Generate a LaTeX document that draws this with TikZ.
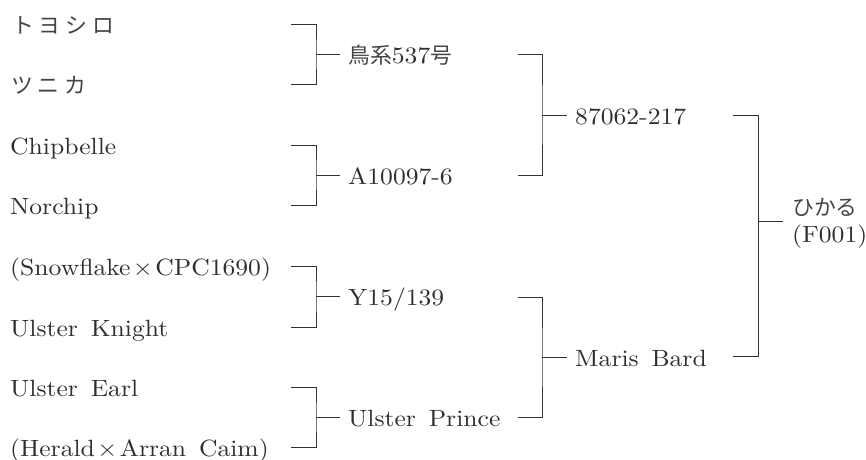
\documentclass[tikz,border=0pt]{standalone}
\usepackage{fontspec}
\setmainfont{lmroman10-regular.otf}[FakeStretch=1.09,WordSpace=1.5]
\newfontfamily\jpf{Noto Sans CJK JP}[Scale=0.93]
\newcommand\jp{\jpf\color{jtx}}
\definecolor{txt}{HTML}{2E2E2E}
\definecolor{jtx}{HTML}{444444}
\definecolor{lnc}{HTML}{333333}
\begin{document}
\begin{tikzpicture}[x=1pt,y=-1pt,
  every node/.style={inner xsep=8pt,inner ysep=0pt,text=txt,font=\fontsize{23.5}{27}\selectfont},
  lbl/.style={anchor=base west},
  brk/.style={draw=lnc,line width=0.9pt}]
\useasboundingbox (0,0) rectangle (866,459);
% generation 1 (left column)
\node[lbl] (g1) at (4,33) {\jp ト\hspace{0.22em}ヨ\hspace{0.22em}シ\hspace{0.22em}ロ};
\node[lbl] (g2) at (3,93) {\jp ツ\hspace{0.22em}ニ\hspace{0.22em}カ};
\node[lbl] (g3) at (2,154) {Chipbelle};
\node[lbl] (g4) at (2,214) {Norchip};
\node[lbl] (g5) at (2,275) {(Snowflake\kern2.5pt×\kern2.5pt CPC1690)};
\node[lbl] (g6) at (2,336) {Ulster Knight};
\node[lbl] (g7) at (2,396) {Ulster Earl};
\node[lbl] (g8) at (2,456) {(Herald\kern2.5pt×\kern2.5pt Arran Caim)};
% generation 2
\node[lbl] (p1) at (340,63) {{\jp 鳥系}537{\jp 号}};
\node[lbl] (p2) at (340,184) {A10097-6};
\node[lbl] (p3) at (340,305) {Y15/139};
\node[lbl] (p4) at (340,426) {Ulster Prince};
% generation 3
\node[lbl] (q1) at (567,124) {87062-217};
\node[lbl] (q2) at (567,366) {Maris Bard};
% result
\node[anchor=west,align=left,inner xsep=9pt] (r) at (783,223) {{\jp ひかる}\\(F001)};
% bracket coordinates
\coordinate (a1) at (291,24);  \coordinate (a2) at (291,84);
\coordinate (a3) at (291,145); \coordinate (a4) at (291,205);
\coordinate (a5) at (291,266); \coordinate (a6) at (291,327);
\coordinate (a7) at (291,387); \coordinate (a8) at (291,447);
\coordinate (s1) at (316,54);  \coordinate (s2) at (316,175);
\coordinate (s3) at (316,296); \coordinate (s4) at (316,417);
\coordinate (b1) at (518,54);  \coordinate (b2) at (518,175);
\coordinate (b3) at (518,297); \coordinate (b4) at (518,417);
\coordinate (t1) at (542,115); \coordinate (t2) at (542,357);
\coordinate (c1) at (733,115); \coordinate (c2) at (733,356);
\coordinate (u1) at (758,221);
% brackets
\draw[brk] (a1) -| (s1) |- (a2);  \draw[brk] (s1) -- (s1 -| p1.west);
\draw[brk] (a3) -| (s2) |- (a4);  \draw[brk] (s2) -- (s2 -| p2.west);
\draw[brk] (a5) -| (s3) |- (a6);  \draw[brk] (s3) -- (s3 -| p3.west);
\draw[brk] (a7) -| (s4) |- (a8);  \draw[brk] (s4) -- (s4 -| p4.west);
\draw[brk] (b1) -| (t1) |- (b2);  \draw[brk] (t1) -- (t1 -| q1.west);
\draw[brk] (b3) -| (t2) |- (b4);  \draw[brk] (t2) -- (t2 -| q2.west);
\draw[brk] (c1) -| (u1) |- (c2);  \draw[brk] (u1) -- (u1 -| r.west);
\end{tikzpicture}
\end{document}
